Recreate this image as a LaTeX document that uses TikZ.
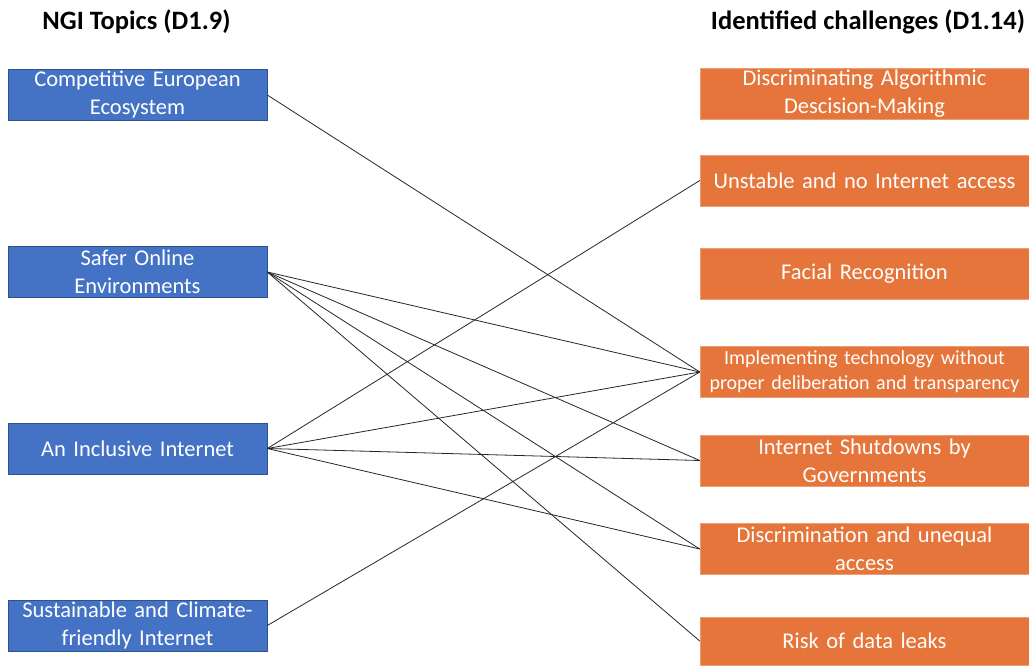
\documentclass[tikz,border=0pt]{standalone}
\usepackage{fontspec}
\setmainfont{Carlito}
\definecolor{topicblue}{HTML}{4472C4}
\definecolor{topicedge}{HTML}{2F528F}
\definecolor{chalorange}{HTML}{E5753A}
\begin{document}
\begin{tikzpicture}[x=1pt,y=-1pt,
  topic/.style={draw=topicedge,line width=0.6pt,fill=topicblue,text=white,font=\fontsize{22.5}{28}\selectfont,
    minimum width=259pt,minimum height=51pt,inner sep=0pt,align=center,text width=257pt},
  chal/.style={draw=chalorange!70!white,line width=0.5pt,fill=chalorange,text=white,font=\fontsize{22.5}{28}\selectfont,
    minimum width=329pt,minimum height=51pt,inner sep=0pt,align=center,text width=327pt},
  chalsmall/.style={chal,font=\fontsize{20}{25}\selectfont},
  head/.style={font=\bfseries\fontsize{26.5}{30}\selectfont,inner sep=0pt},
  link/.style={draw=black!85,line width=0.8pt}]
\useasboundingbox (0,0) rectangle (1029,665);
\node[head] (h1) at (136.5,22) {NGI Topics (D1.9)};
\node[head] (h2) at (868,22) {Identified challenges (D1.14)};

\node[topic] (t1) at (137.5,95) {Competitive European\\Ecosystem};
\node[topic] (t2) at (137.5,272) {Safer Online\\Environments};
\node[topic] (t3) at (137.5,448.5) {An Inclusive Internet};
\node[topic] (t4) at (137.5,625.5) {Sustainable and Climate-\\friendly Internet};

\node[chal] (c1) at (864.5,94) {Discriminating Algorithmic\\Descision-Making};
\node[chal] (c2) at (864.5,180.5) {Unstable and no Internet access};
\node[chal] (c3) at (864.5,273.5) {Facial Recognition};
\node[chalsmall] (c4) at (864.5,372) {Implementing technology without\\proper deliberation and transparency};
\node[chal] (c5) at (864.5,460.5) {Internet Shutdowns by\\Governments};
\node[chal] (c6) at (864.5,549) {Discrimination and unequal\\access};
\node[chal,minimum height=48pt] (c7) at (864.5,641) {Risk of data leaks};

\draw[link] (t1.east) -- (c4.west);
\draw[link] (t2.east) -- (c4.west);
\draw[link] (t2.east) -- (c5.west);
\draw[link] (t2.east) -- (c6.west);
\draw[link] (t2.east) -- (c7.west);
\draw[link] (t3.east) -- (c2.west);
\draw[link] (t3.east) -- (c4.west);
\draw[link] (t3.east) -- (c5.west);
\draw[link] (t3.east) -- (c6.west);
\draw[link] (t4.east) -- (c4.west);
\end{tikzpicture}
\end{document}
